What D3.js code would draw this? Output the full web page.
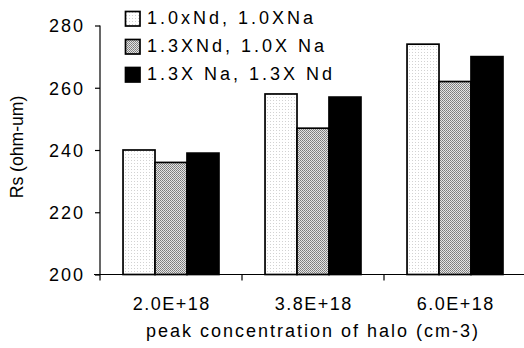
<!DOCTYPE html>
<html>
<head>
<meta charset="utf-8">
<script src="https://cdn.jsdelivr.net/npm/d3@7"></script>
<style>
  html, body { margin: 0; padding: 0; background: #fff; }
  svg { display: block; }
  text { font-family: "Liberation Sans", Arial, sans-serif; fill: #000; }
</style>
</head>
<body>
<svg id="chart" width="524" height="348"></svg>
<script>
// Sheet resistance vs. halo peak concentration
const categories = ["2.0E+18", "3.8E+18", "6.0E+18"];
const seriesNames = ["1.0xNd, 1.0XNa", "1.3XNd, 1.0X Na", "1.3X Na, 1.3X Nd"];
const seriesA = [240, 258, 274];
const seriesB = [236, 247, 262];
const seriesC = [239, 257, 270];
const yTicks = [200, 220, 240, 260, 280];
const yTitle = "Rs (ohm-um)";
const xTitle = "peak concentration of halo (cm-3)";

const svg = d3.select("#chart");
const plotLeft = 100, plotRight = 526, plotTop = 25.5, plotBottom = 274.5;

// fill patterns: light dots, grey stipple, solid black
const defs = svg.append("defs");
const pDots = defs.append("pattern").attr("id", "pDots")
  .attr("patternUnits", "userSpaceOnUse").attr("width", 3).attr("height", 3);
pDots.append("rect").attr("width", 3).attr("height", 3).attr("fill", "#fff");
pDots.append("rect").attr("x", 1).attr("y", 1).attr("width", 1).attr("height", 1).attr("fill", "#d2d2d2");

const pStip = defs.append("pattern").attr("id", "pStip")
  .attr("patternUnits", "userSpaceOnUse").attr("width", 2).attr("height", 2);
pStip.append("rect").attr("width", 2).attr("height", 2).attr("fill", "#e4e4e4");
pStip.append("rect").attr("x", 0).attr("y", 0).attr("width", 1).attr("height", 1).attr("fill", "#7a7a7a");
pStip.append("rect").attr("x", 1).attr("y", 1).attr("width", 1).attr("height", 1).attr("fill", "#8a8a8a");

const fills = ["url(#pDots)", "url(#pStip)", "#000"];

const series = [seriesA, seriesB, seriesC];

const x0 = d3.scaleBand().domain(categories).range([plotLeft, plotRight]).padding(0);
const x1 = d3.scaleBand().domain(d3.range(series.length))
  .range([0, x0.bandwidth()]).paddingInner(0).paddingOuter(0.72);
const y = d3.scaleLinear().domain([200, 280]).range([plotBottom, plotTop]);

// bars
const groups = svg.append("g").selectAll("g")
  .data(categories).join("g")
  .attr("transform", d => `translate(${x0(d)},0)`);

groups.selectAll("rect")
  .data((d, i) => series.map((s, k) => ({ k, v: s[i] })))
  .join("rect")
  .attr("x", d => x1(d.k))
  .attr("y", d => y(d.v))
  .attr("width", x1.bandwidth())
  .attr("height", d => y(200) - y(d.v))
  .attr("fill", d => fills[d.k])
  .attr("stroke", "#000")
  .attr("stroke-width", 1.7);

// y axis
const yAxis = svg.append("g")
  .attr("transform", `translate(${plotLeft},0)`)
  .call(d3.axisLeft(y).tickValues(yTicks).tickSize(5).tickPadding(10).tickFormat(d3.format("d")));
yAxis.select(".domain").attr("stroke", "#000").attr("stroke-width", 1.2).attr("d", `M0,${plotTop}V${plotBottom}`);
yAxis.selectAll(".tick line").attr("stroke", "#000").attr("stroke-width", 1.2);
yAxis.selectAll(".tick text")
  .style("font-size", "18px").style("letter-spacing", "2px")
  .attr("dy", "0.36em");

// x axis
const xAxis = svg.append("g")
  .attr("transform", `translate(0,${plotBottom})`)
  .call(d3.axisBottom(x0).tickSize(0));
xAxis.select(".domain").attr("stroke", "#000").attr("stroke-width", 1.2).attr("d", `M${plotLeft - 6},0H${plotRight}`);
xAxis.selectAll(".tick text")
  .attr("y", 310 - plotBottom).attr("dy", 0).attr("dx", 0.8)
  .style("font-size", "18px").style("letter-spacing", "1.5px");
// category separators
xAxis.append("g").selectAll("line")
  .data(categories.concat([null]))
  .join("line")
  .attr("x1", (d, i) => plotLeft + i * x0.step())
  .attr("x2", (d, i) => plotLeft + i * x0.step())
  .attr("y1", 0).attr("y2", 6)
  .attr("stroke", "#000").attr("stroke-width", 1.2);

// axis titles
svg.append("text")
  .attr("transform", `translate(23,147) rotate(-90)`)
  .attr("text-anchor", "middle")
  .style("font-size", "17.6px")
  .text(yTitle);

svg.append("text")
  .attr("x", (plotLeft + plotRight) / 2).attr("y", 337)
  .attr("text-anchor", "middle")
  .style("font-size", "18px").style("letter-spacing", "2px")
  .text(xTitle);

// legend
const legend = svg.append("g").selectAll("g")
  .data(seriesNames).join("g")
  .attr("transform", (d, i) => `translate(125,${11 + i * 28})`);
legend.append("rect")
  .attr("x", 0.5).attr("y", 0.5).attr("width", 14.5).attr("height", 14.5)
  .attr("fill", (d, i) => fills[i])
  .attr("stroke", "#000").attr("stroke-width", 1.7);
legend.append("text")
  .attr("x", 22).attr("y", 13)
  .style("font-size", "18px").style("letter-spacing", "3px")
  .text(d => d);
</script>
</body>
</html>
